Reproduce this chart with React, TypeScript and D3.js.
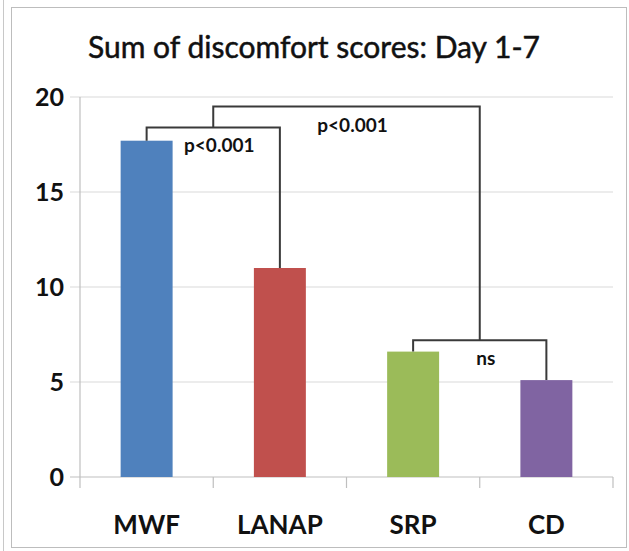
import React from "react";
import * as d3 from "d3";

// chart data
const categories = ["MWF", "LANAP", "SRP", "CD"];
const scores = [17.7, 11.0, 6.6, 5.1];
const barColors = ["#4F81BD", "#C0504D", "#9BBB59", "#8064A2"];
const yTicks = [0, 5, 10, 15, 20];

// significance brackets: from/to are category indexes (x.5 = between two bars),
// level is the bracket height in score units
const brackets = [
  { from: 0, to: 1, level: 18.4, label: "p<0.001" },
  { from: 0.5, to: 2.5, level: 19.5, label: "p<0.001" },
  { from: 2, to: 3, level: 7.2, label: "ns" },
];

const W = 629;
const H = 551;
const FONT = "Lato, 'Open Sans', sans-serif";

const App = () => {
  const x = d3.scaleBand<string>().domain(categories).range([80, 613]).padding(0);
  const y = d3.scaleLinear().domain([0, 20]).range([477, 97]);
  const barW = x.bandwidth() * 0.39;

  // center of a (possibly fractional) category index
  const cx = (i: number) => {
    const lo = Math.floor(i);
    const hi = Math.ceil(i);
    const a = x(categories[lo])! + x.bandwidth() / 2;
    const b = x(categories[hi])! + x.bandwidth() / 2;
    return a + (b - a) * (i - lo);
  };

  // where the leg of a bracket ends: bar top, or the top of the bracket below it
  const legEnd = (i: number, self: number) => {
    if (Number.isInteger(i)) return scores[i];
    const under = brackets.find(
      (b, k) => k !== self && b.from <= i && b.to >= i && b.level < brackets[self].level
    );
    return under ? under.level : 0;
  };

  return (
    <svg width={W} height={H} style={{ display: "block", position: "absolute", left: 0, top: 0 }}>
      <rect width={W} height={H} fill="#fff" />
      {/* frame */}
      <line x1={3.5} x2={3.5} y1={0} y2={H} stroke="#c8c8c8" />
      <rect x={11.5} y={7.5} width={615} height={540} fill="none" stroke="#bdbdbd" />

      <text
        x={314}
        y={58}
        textAnchor="middle"
        fontFamily={FONT}
        fontSize={30}
        fill="#111"
        stroke="#111"
        strokeWidth={0.5}
      >
        Sum of discomfort scores: Day 1-7
      </text>

      {/* grid + y ticks */}
      {yTicks.map((t) => (
        <g key={t}>
          <line x1={70} x2={613} y1={y(t)} y2={y(t)} stroke={t === 0 ? "#bfbfbf" : "#d9d9d9"} strokeWidth={1.2} />
          <text
            x={64}
            y={y(t)}
            dy="0.36em"
            textAnchor="end"
            fontFamily={FONT}
            fontWeight="bold"
            fontSize={25}
            fill="#111"
          >
            {t}
          </text>
        </g>
      ))}
      <line x1={80} x2={80} y1={y(20)} y2={488} stroke="#bfbfbf" strokeWidth={1.2} />
      {categories.map((c) => (
        <line key={c} x1={x(c)! + x.bandwidth()} x2={x(c)! + x.bandwidth()} y1={y(0)} y2={488} stroke="#bfbfbf" strokeWidth={1.2} />
      ))}

      {/* bars */}
      {categories.map((c, i) => (
        <rect
          key={c}
          x={x(c)! + (x.bandwidth() - barW) / 2}
          y={y(scores[i])}
          width={barW}
          height={y(0) - y(scores[i])}
          fill={barColors[i]}
        />
      ))}

      {/* category labels */}
      {categories.map((c) => (
        <text
          key={c}
          x={x(c)! + x.bandwidth() / 2}
          y={534}
          textAnchor="middle"
          fontFamily={FONT}
          fontWeight="bold"
          fontSize={26}
          fill="#111"
        >
          {c}
        </text>
      ))}

      {/* brackets */}
      {brackets.map((b, k) => {
        const x1 = cx(b.from);
        const x2 = cx(b.to);
        const top = y(b.level);
        const path = d3.path();
        path.moveTo(x1, y(legEnd(b.from, k)));
        path.lineTo(x1, top);
        path.lineTo(x2, top);
        path.lineTo(x2, y(legEnd(b.to, k)));
        return (
          <g key={k}>
            <path d={path.toString()} fill="none" stroke="#3a3a3a" strokeWidth={2} />
            <text
              x={(x1 + x2) / 2 + 6}
              y={top + 25}
              textAnchor="middle"
              fontFamily={FONT}
              fontWeight="bold"
              fontSize={19}
              fill="#111"
            >
              {b.label}
            </text>
          </g>
        );
      })}
    </svg>
  );
};

export default App;
